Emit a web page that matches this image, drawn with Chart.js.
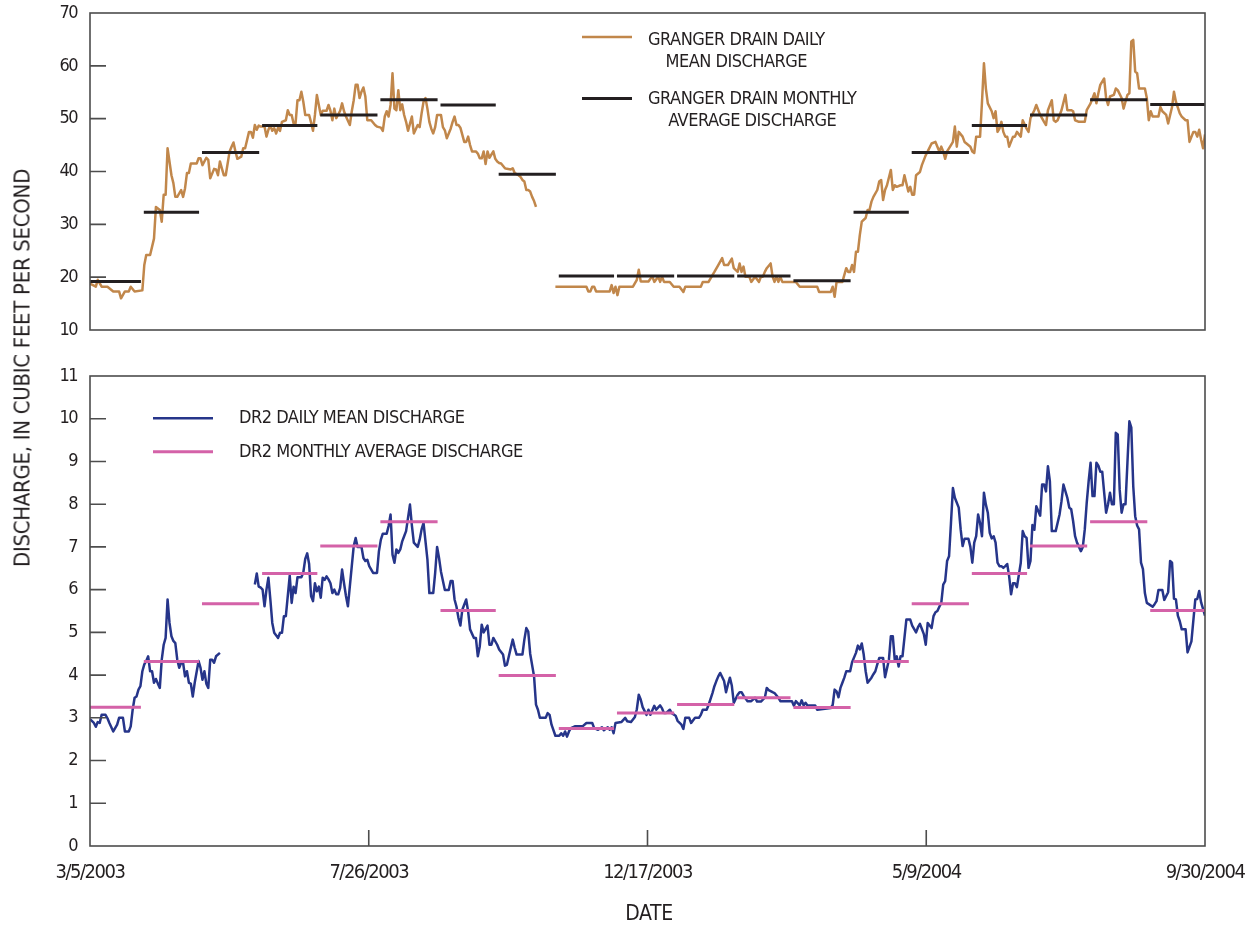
<!DOCTYPE html>
<html>
<head>
<meta charset="utf-8">
<title>Granger Drain and DR2 discharge, 2003-2004</title>
<script src="https://cdn.jsdelivr.net/npm/chart.js@4.4.1/dist/chart.umd.min.js"></script>
<style>
  html, body { margin: 0; padding: 0; background: #fff; }
  body { width: 1251px; height: 928px; position: relative; overflow: hidden; }
  canvas { position: absolute; left: 0; }
  #topPanel { top: 0; }
  #bottomPanel { top: 350px; }
  .axis-title {
    position: absolute; white-space: nowrap; color: #231f20;
    font-family: "Liberation Sans Narrow", "DejaVu Sans Condensed", "Arial Narrow", sans-serif;
  }
  #yTitle { left: 22px; top: 368px; font-size: 22px; letter-spacing: -0.3px;
            transform: translate(-50%, -50%) rotate(-90deg); }
  #xTitle { left: 649px; top: 913px; font-size: 21px; letter-spacing: -0.3px; transform: translate(-50%, -50%); }
</style>
</head>
<body>
<canvas id="topPanel" width="1251" height="345"></canvas>
<canvas id="bottomPanel" width="1251" height="578"></canvas>
<div id="yTitle" class="axis-title">DISCHARGE, IN CUBIC FEET PER SECOND</div>
<div id="xTitle" class="axis-title">DATE</div>
<script>
// Period of record
const startDate = '2003-03-05';
const endDate = '2004-09-30';
const dateTicks = ['3/5/2003', '7/26/2003', '12/17/2003', '5/9/2004', '9/30/2004'];

// Granger Drain daily mean discharge, [days after start, cfs]; null = no record
const grangerDaily = [
  [0,18.8],[3,18.2],[4,19.5],[6,18.2],[9,18.2],[12,17.3],[15,17.3],[16,16.0],[18,17.3],[20,17.3],[21,18.2],[23,17.3],
  [27,17.5],[28,22.3],[29,24.2],[31,24.2],[33,27.3],[34,33.3],[36,32.7],[37,30.5],[38,35.6],[39,35.6],[40,44.4],[42,39.3],
  [43,37.8],[44,35.2],[45,35.2],[47,36.5],[48,35.2],[49,36.8],[50,39.7],[51,39.7],[52,41.5],[55,41.5],[56,42.5],[57,42.5],
  [58,41.2],[60,42.6],[61,42.2],[62,38.7],[64,40.5],[65,40.4],[66,39.3],[67,41.9],[68,40.6],[69,39.3],[70,39.3],[72,43.8],
  [73,44.7],[74,45.5],[75,43.8],[76,42.4],[78,42.8],[79,44.4],[80,44.4],[82,47.5],[83,47.5],[84,46.4],[85,48.8],[86,47.9],
  [87,48.7],[88,48.5],[90,48.5],[91,46.6],[92,47.9],[93,48.7],[94,47.7],[95,48.2],[96,47.2],[97,48.3],[98,47.7],[99,49.4],
  [101,49.7],[102,51.6],[103,50.7],[104,50.7],[105,49.1],[106,49.1],[107,53.5],[108,53.5],[109,55.1],[110,53.2],[111,50.7],
  [113,50.7],[114,49.3],[115,47.7],[116,50.7],[117,54.5],[118,52.6],[119,50.7],[120,51.5],[122,51.5],[123,52.6],[124,51.5],
  [125,49.7],[126,51.9],[127,50.1],[129,51.5],[130,52.9],[131,51.4],[132,50.4],[134,48.8],[135,51.4],[136,53.5],[137,56.4],
  [138,56.4],[139,53.9],[140,55.1],[141,55.9],[142,54.2],[143,49.7],[145,49.7],[147,48.8],[148,48.5],[150,48.3],[151,47.7],
  [152,50.4],[153,51.4],[154,50.4],[155,52.6],[156,58.6],[157,51.9],[158,51.6],[159,55.4],[160,51.6],[161,52.7],[162,50.7],
  [163,49.4],[164,47.7],[166,50.4],[167,47.2],[169,48.8],[170,48.4],[171,51.0],[172,53.2],[173,53.9],[174,51.9],[175,49.4],
  [176,48.1],[177,47.2],[178,48.4],[179,50.7],[181,50.7],[182,48.4],[183,47.8],[184,46.3],[186,48.1],[187,49.4],[188,50.4],
  [189,48.8],[190,48.8],[191,48.3],[193,45.6],[194,45.6],[195,46.6],[196,45.0],[197,43.8],[199,43.8],[200,43.4],[201,42.5],
  [202,42.5],[203,43.8],[204,41.4],[205,43.8],[206,42.6],[208,43.8],[209,42.4],[210,41.9],[211,41.6],[212,41.5],[214,40.6],
  [215,40.5],[217,40.4],[218,40.6],[219,39.7],[221,39.3],[222,39.0],[223,38.4],[224,38.1],[225,36.5],[226,36.5],[227,36.2],
  [228,35.2],[229,34.4],[230,33.3],
  [235,null],
  [240,18.2],[256,18.2],[257,17.3],[258,17.3],[259,18.2],[260,18.2],[261,17.3],[268,17.3],[269,18.5],[270,17.0],[271,18.2],
  [272,16.6],[273,18.2],[280,18.2],[282,19.5],[283,21.4],[284,19.2],[288,19.2],[289,19.7],[290,20.1],[291,19.1],[293,20.1],
  [294,19.1],[295,20.1],[296,19.1],[299,19.1],[301,18.2],[304,18.2],[306,17.2],[307,18.2],[315,18.2],[316,19.1],[319,19.1],
  [321,20.4],[322,21.0],[324,22.3],[326,23.6],[327,22.3],[329,22.3],[331,23.5],[332,21.7],[334,21.0],[335,22.6],[336,21.0],
  [337,22.0],[338,20.1],[340,20.1],[341,19.1],[343,20.1],[345,19.1],[346,20.1],[347,20.1],[348,21.0],[349,21.7],[351,22.6],
  [352,20.1],[353,19.1],[354,20.1],[355,19.1],[356,20.1],[357,19.1],[364,19.1],[366,18.2],[375,18.2],[376,17.2],[382,17.2],
  [383,18.2],[384,16.3],[385,19.1],[388,19.1],[390,21.7],[391,21.0],[392,21.0],[393,22.3],[394,21.0],[395,24.8],[396,24.8],
  [397,28.0],[398,30.5],[400,31.2],[401,32.7],[402,32.7],[403,34.3],[404,35.2],[406,36.5],[407,38.1],[408,38.4],[409,34.6],
  [410,36.5],[411,37.4],[413,40.3],[414,36.5],[415,37.4],[416,37.1],[418,37.4],[419,37.4],[420,39.3],[422,36.2],[423,37.1],
  [424,35.6],[425,35.6],[426,39.3],[428,39.9],[429,41.2],[431,43.1],[432,43.8],[434,45.3],[436,45.6],[438,43.8],[439,44.7],
  [440,43.8],[441,42.4],[442,43.8],[444,45.0],[445,45.6],[446,48.5],[447,44.7],[448,47.5],[450,46.6],[451,45.6],[452,45.3],
  [454,44.7],[455,43.8],[456,43.5],[457,46.6],[459,46.6],[460,53.2],[461,60.5],[462,55.7],[463,52.9],[465,51.4],[466,50.1],
  [467,51.4],[468,47.5],[469,48.1],[470,49.4],[471,47.5],[472,46.6],[473,46.6],[474,44.7],[476,46.6],[477,46.6],[478,47.5],
  [480,46.6],[481,49.7],[483,48.1],[484,47.5],[485,50.1],[487,51.6],[488,52.6],[490,50.7],[492,49.4],[493,48.8],[494,51.6],
  [496,53.5],[497,49.7],[498,49.4],[499,49.7],[501,51.6],[503,54.5],[504,51.6],[506,51.6],[507,51.4],[508,49.7],[510,49.4],
  [513,49.4],[514,51.6],[516,52.9],[518,54.8],[519,52.9],[520,54.8],[521,56.4],[523,57.6],[524,53.9],[525,52.6],[526,54.2],
  [528,54.5],[529,55.7],[530,55.4],[532,53.9],[533,51.9],[534,53.2],[535,54.5],[536,54.8],[537,64.6],[538,64.9],[539,58.9],
  [540,58.6],[541,55.7],[544,55.7],[545,53.9],[546,49.7],[547,51.4],[548,50.4],[551,50.4],[552,52.2],[553,51.4],[555,50.7],
  [556,49.1],[558,52.2],[559,55.1],[560,53.2],[562,51.0],[563,50.4],[565,49.7],[566,49.7],[567,45.6],[569,47.5],[570,47.5],
  [571,46.6],[572,47.9],[573,46.0],[574,44.4],[575,47.0]
];

// DR2 daily mean discharge, [days after start, cfs]; null = no record
const dr2Daily = [
  [0,2.97],[2,2.88],[3,2.79],[4,2.9],[5,2.88],[6,3.07],[8,3.07],[9,2.99],[10,2.88],[12,2.68],[14,2.84],[15,3.0],[17,3.0],
  [18,2.68],[20,2.68],[21,2.8],[22,3.19],[23,3.47],[24,3.5],[25,3.66],[26,3.74],[27,4.09],[28,4.25],[29,4.33],[30,4.44],
  [31,4.09],[32,4.09],[33,3.82],[34,3.91],[35,3.8],[36,3.7],[37,4.36],[38,4.71],[39,4.87],[40,5.77],[41,5.22],[42,4.91],
  [43,4.8],[44,4.75],[45,4.36],[46,4.17],[47,4.29],[48,4.29],[49,3.97],[50,4.09],[51,3.82],[52,3.8],[53,3.5],[54,3.82],
  [56,4.33],[57,4.17],[58,3.89],[59,4.09],[60,3.8],[61,3.7],[62,4.36],[63,4.36],[64,4.29],[65,4.44],[67,4.52],
  [76,null],
  [85,6.12],[86,6.38],[87,6.07],[88,6.05],[89,6.0],[90,5.61],[91,6.0],[92,6.28],[93,5.77],[94,5.22],[95,4.99],[97,4.87],
  [98,4.99],[99,4.99],[100,5.38],[101,5.38],[103,6.33],[104,5.69],[105,6.07],[106,5.92],[107,6.29],[109,6.29],[110,6.4],
  [111,6.72],[112,6.85],[113,6.6],[114,5.85],[115,5.73],[116,6.15],[117,5.96],[118,6.07],[119,5.81],[120,6.28],[121,6.23],
  [122,6.31],[123,6.24],[124,6.15],[125,5.92],[126,6.0],[127,5.89],[128,5.89],[129,6.04],[130,6.47],[131,6.15],[132,5.85],
  [133,5.61],[135,6.55],[136,7.02],[137,7.21],[138,7.0],[140,7.0],[141,6.74],[142,6.67],[143,6.7],[144,6.55],[146,6.39],
  [148,6.39],[149,6.9],[150,7.17],[151,7.31],[153,7.31],[154,7.49],[155,7.76],[156,6.82],[157,6.63],[158,6.94],[159,6.86],
  [160,6.94],[161,7.13],[162,7.25],[163,7.37],[164,7.68],[165,7.99],[166,7.5],[167,7.1],[169,7.0],[170,7.17],[171,7.41],
  [172,7.56],[174,6.71],[175,5.92],[177,5.92],[178,6.39],[179,7.0],[180,6.74],[181,6.42],[183,5.99],[185,5.99],[186,6.2],
  [187,6.2],[188,5.77],[189,5.6],[190,5.34],[191,5.16],[192,5.53],[194,5.77],[195,5.49],[196,5.07],[198,4.87],[199,4.87],
  [200,4.44],[201,4.67],[202,5.18],[203,5.0],[205,5.16],[206,4.71],[207,4.71],[208,4.87],[210,4.71],[211,4.6],[213,4.48],
  [214,4.22],[215,4.24],[217,4.64],[218,4.83],[219,4.64],[220,4.48],[223,4.48],[224,4.83],[225,5.1],[226,5.02],[227,4.5],
  [229,3.97],[230,3.31],[231,3.19],[232,3.0],[235,3.0],[236,3.11],[237,3.07],[238,2.84],[240,2.58],[242,2.58],[243,2.64],
  [244,2.58],[245,2.68],[246,2.56],[247,2.68],[248,2.76],[250,2.8],[254,2.8],[256,2.88],[259,2.88],[260,2.76],[262,2.72],
  [264,2.78],[265,2.71],[267,2.78],[268,2.72],[269,2.78],[270,2.64],[271,2.88],[274,2.9],[276,3.0],[277,2.92],[279,2.9],
  [281,3.02],[282,3.2],[283,3.54],[284,3.43],[285,3.25],[287,3.07],[288,3.19],[289,3.07],[291,3.28],[292,3.19],[294,3.29],
  [295,3.22],[296,3.11],[297,3.11],[299,3.19],[300,3.11],[302,3.05],[303,2.93],[305,2.84],[306,2.74],[307,3.0],[309,3.0],
  [310,2.88],[312,3.0],[314,3.0],[315,3.07],[316,3.19],[318,3.19],[319,3.3],[321,3.58],[322,3.74],[323,3.86],[324,3.97],
  [325,4.05],[327,3.86],[328,3.6],[329,3.78],[330,3.94],[331,3.75],[332,3.35],[334,3.54],[335,3.6],[336,3.6],[337,3.52],
  [339,3.39],[341,3.39],[343,3.47],[344,3.38],[346,3.38],[348,3.47],[349,3.7],[350,3.65],[352,3.6],[353,3.58],[355,3.47],
  [356,3.39],[362,3.39],[363,3.28],[364,3.39],[366,3.29],[367,3.41],[368,3.29],[369,3.35],[370,3.29],[374,3.29],[375,3.19],
  [382,3.23],[383,3.3],[384,3.66],[385,3.62],[386,3.48],[387,3.7],[388,3.82],[389,3.94],[390,4.09],[392,4.09],[393,4.3],
  [395,4.52],[396,4.69],[397,4.6],[398,4.74],[399,4.48],[400,4.09],[401,3.82],[403,3.94],[404,4.02],[405,4.09],[406,4.25],
  [407,4.4],[409,4.4],[410,3.95],[412,4.36],[413,4.91],[414,4.91],[415,4.36],[416,4.44],[417,4.2],[418,4.44],[419,4.44],
  [420,4.87],[421,5.3],[423,5.3],[424,5.16],[426,5.0],[427,5.12],[428,5.2],[429,5.08],[430,4.96],[431,4.71],[432,5.22],
  [434,5.1],[435,5.38],[436,5.47],[437,5.5],[438,5.6],[439,5.69],[440,6.12],[441,6.2],[442,6.67],[443,6.78],[444,7.56],
  [445,8.38],[446,8.15],[448,7.92],[449,7.41],[450,7.02],[451,7.19],[453,7.19],[454,7.0],[455,6.63],[456,7.1],[457,7.25],
  [458,7.76],[459,7.56],[460,7.25],[461,8.27],[462,7.99],[463,7.8],[464,7.33],[465,7.2],[466,7.25],[467,7.1],[468,6.63],
  [469,6.55],[470,6.55],[471,6.51],[472,6.55],[473,6.6],[474,6.31],[475,5.89],[476,6.15],[477,6.15],[478,6.06],[480,6.63],
  [481,7.37],[482,7.25],[483,7.21],[484,6.51],[485,6.67],[486,7.51],[487,7.4],[488,7.95],[489,7.84],[490,7.73],[491,8.46],
  [492,8.46],[493,8.3],[494,8.89],[495,8.54],[496,7.37],[498,7.37],[500,7.76],[501,8.07],[502,8.46],[504,8.15],[505,7.92],
  [506,7.88],[507,7.6],[508,7.25],[509,7.1],[511,6.9],[512,7.0],[513,7.41],[514,8.03],[515,8.54],[516,8.97],[517,8.19],
  [518,8.19],[519,8.97],[520,8.9],[521,8.76],[522,8.76],[523,8.27],[524,7.8],[525,8.0],[526,8.27],[527,8.0],[528,8.0],
  [529,9.67],[530,9.63],[531,8.34],[532,7.8],[533,8.0],[534,8.0],[535,8.97],[536,9.94],[537,9.79],[538,8.42],[539,7.72],
  [540,7.5],[541,7.41],[542,6.63],[543,6.48],[544,5.92],[545,5.69],[546,5.66],[548,5.6],[549,5.66],[550,5.73],[551,5.99],
  [553,5.99],[554,5.76],[556,5.94],[557,6.67],[558,6.63],[559,5.79],[560,5.77],[561,5.39],[562,5.26],[563,5.07],[565,5.07],
  [566,4.53],[568,4.79],[570,5.77],[571,5.78],[572,5.97],[573,5.7],[574,5.55],[575,5.39]
];

// Monthly average discharge, cfs
const months = ['2003-03','2003-04','2003-05','2003-06','2003-07','2003-08','2003-09','2003-10','2003-11','2003-12',
                '2004-01','2004-02','2004-03','2004-04','2004-05','2004-06','2004-07','2004-08','2004-09'];
const grangerMonthly = [19.2, 32.3, 43.6, 48.7, 50.7, 53.6, 52.6, 39.5, 20.2, 20.2,
                        20.2, 20.2, 19.3, 32.3, 43.6, 48.7, 50.7, 53.6, 52.7];
const dr2Monthly = [3.25, 4.32, 5.67, 6.38, 7.02, 7.59, 5.51, 3.99, 2.75, 3.11,
                    3.31, 3.47, 3.24, 4.32, 5.67, 6.38, 7.02, 7.59, 5.51];

// ---------------------------------------------------------------------------
const FONT = '"Liberation Sans Narrow", "DejaVu Sans Condensed", "Arial Narrow", sans-serif';
const INK = '#231f20';
const FRAME = '#4d4d4d';
const COLORS = { granger: '#c1874b', grangerAvg: '#231f20', dr2: '#26358a', dr2Avg: '#d462a8' };

Chart.defaults.font.family = FONT;
Chart.defaults.color = INK;

const DAY = 86400000;
const utc = s => { const [y, m, d] = s.split('-').map(Number); return Date.UTC(y, m - 1, d); };
const t0 = utc(startDate);
const span = Math.round((utc(endDate) - t0) / DAY);

const dailyPoints = obs => obs.map(([d, v]) => ({ x: d, y: v }));

// Each month's average is drawn as a flat bar spanning that month.
function monthlyPoints(values) {
  const pts = [];
  months.forEach((m, i) => {
    const [y, mo] = m.split('-').map(Number);
    const first = (Date.UTC(y, mo - 1, 1) - t0) / DAY;
    const last = (Date.UTC(y, mo, 0) - t0) / DAY;
    const a = Math.max(0, first + 0.75);
    const b = Math.min(span, last + 0.25);
    pts.push({ x: a, y: values[i] }, { x: b, y: values[i] }, { x: b, y: null });
  });
  return pts;
}

// Tighter tracking for axis numbers (condensed look).
const tightText = {
  id: 'tightText',
  beforeDraw(chart) { chart.ctx.letterSpacing = '-1.5px'; },
  afterDatasetsDraw(chart) { chart.ctx.letterSpacing = '0px'; }
};

// Box frame plus short inward tick marks at the interior ticks.
const frameTicks = {
  id: 'frameTicks',
  afterDatasetsDraw(chart, args, opts) {
    const { ctx, chartArea: a, scales } = chart;
    ctx.save();
    ctx.strokeStyle = FRAME;
    ctx.lineWidth = 1.6;
    ctx.beginPath();
    const ys = scales.y;
    ys.ticks.forEach(t => {
      if (t.value > ys.min && t.value < ys.max) {
        const y = ys.getPixelForValue(t.value);
        ctx.moveTo(a.left, y); ctx.lineTo(a.left + 16, y);
      }
    });
    if (opts.xTicks) {
      const xs = scales.x;
      xs.ticks.forEach(t => {
        if (t.value > xs.min && t.value < xs.max) {
          const x = xs.getPixelForValue(t.value);
          ctx.moveTo(x, a.bottom); ctx.lineTo(x, a.bottom - 16);
        }
      });
    }
    ctx.stroke();
    ctx.strokeRect(a.left, a.top, a.right - a.left, a.bottom - a.top);
    ctx.restore();
  }
};

// In-panel key: a line sample followed by one or two centred text lines.
const panelKey = {
  id: 'panelKey',
  afterDraw(chart, args, opts) {
    const ctx = chart.ctx;
    ctx.save();
    ctx.font = opts.size + 'px ' + FONT;
    ctx.letterSpacing = opts.tracking;
    ctx.fillStyle = INK;
    ctx.textBaseline = 'middle';
    ctx.textAlign = 'center';
    opts.items.forEach(it => {
      const ds = chart.data.datasets[it.dataset];
      ctx.strokeStyle = ds.borderColor;
      ctx.lineWidth = ds.borderWidth;
      ctx.beginPath();
      ctx.moveTo(it.x0, it.lineY);
      ctx.lineTo(it.x1, it.lineY);
      ctx.stroke();
      const cx = it.textX + ctx.measureText(it.text[0]).width / 2;
      it.text.forEach((line, k) => ctx.fillText(line, cx, it.textY + k * opts.lineGap));
    });
    ctx.restore();
  }
};

function panel(canvasId, cfg) {
  return new Chart(document.getElementById(canvasId), {
    type: 'line',
    data: {
      datasets: [
        { data: cfg.monthly, borderColor: cfg.avgColor, borderWidth: 3, pointRadius: 0,
          borderCapStyle: 'butt', spanGaps: false },
        { data: cfg.daily, borderColor: cfg.dailyColor, borderWidth: 2.5, pointRadius: 0,
          borderJoinStyle: 'round', spanGaps: false, tension: 0 }
      ]
    },
    options: {
      responsive: false,
      animation: false,
      events: [],
      layout: { padding: cfg.padding },
      plugins: {
        legend: { display: false },
        tooltip: { enabled: false },
        frameTicks: { xTicks: cfg.showX },
        panelKey: cfg.key
      },
      scales: {
        x: {
          type: 'linear', min: 0, max: span, display: cfg.showX,
          afterBuildTicks: s => { s.ticks = dateTicks.map((_, i) => ({ value: span * i / (dateTicks.length - 1) })); },
          ticks: { callback: (v, i) => dateTicks[i], autoSkip: false, maxRotation: 0, padding: 15,
                   font: { size: 20 }, color: INK },
          grid: { display: false, drawTicks: false },
          border: { display: false },
          afterFit: s => {
            s.height = cfg.showX ? 82 : 0;
            s.paddingLeft = 0; s.paddingRight = 0;
          }
        },
        y: {
          min: cfg.yMin, max: cfg.yMax,
          ticks: { stepSize: cfg.yStep, padding: 13, font: { size: 18 }, color: INK },
          grid: { display: false, drawTicks: false },
          border: { display: false },
          afterFit: s => {
            s.width = 90;
            s.paddingTop = 0; s.paddingBottom = 0;
          }
        }
      }
    },
    plugins: [tightText, frameTicks, panelKey]
  });
}

panel('topPanel', {
  daily: dailyPoints(grangerDaily),
  monthly: monthlyPoints(grangerMonthly),
  dailyColor: COLORS.granger, avgColor: COLORS.grangerAvg,
  yMin: 10, yMax: 70, yStep: 10,
  padding: { left: 0, right: 46, top: 13, bottom: 15 },
  showX: false,
  key: {
    size: 18, tracking: '-0.5px', lineGap: 22.5,
    items: [
      { dataset: 1, x0: 582, x1: 632, lineY: 37, textX: 648, textY: 40,
        text: ['GRANGER DRAIN DAILY', 'MEAN DISCHARGE'] },
      { dataset: 0, x0: 582, x1: 632, lineY: 98.5, textX: 648, textY: 99,
        text: ['GRANGER DRAIN MONTHLY', 'AVERAGE DISCHARGE'] }
    ]
  }
});

panel('bottomPanel', {
  daily: dailyPoints(dr2Daily),
  monthly: monthlyPoints(dr2Monthly),
  dailyColor: COLORS.dr2, avgColor: COLORS.dr2Avg,
  yMin: 0, yMax: 11, yStep: 1,
  padding: { left: 0, right: 46, top: 26, bottom: 0 },
  showX: true,
  key: {
    size: 18, tracking: '-0.5px', lineGap: 22.5,
    items: [
      { dataset: 1, x0: 153, x1: 213, lineY: 68.3, textX: 239, textY: 68.5,
        text: ['DR2 DAILY MEAN DISCHARGE'] },
      { dataset: 0, x0: 153, x1: 213, lineY: 101.7, textX: 239, textY: 102,
        text: ['DR2 MONTHLY AVERAGE DISCHARGE'] }
    ]
  }
});
</script>
</body>
</html>
